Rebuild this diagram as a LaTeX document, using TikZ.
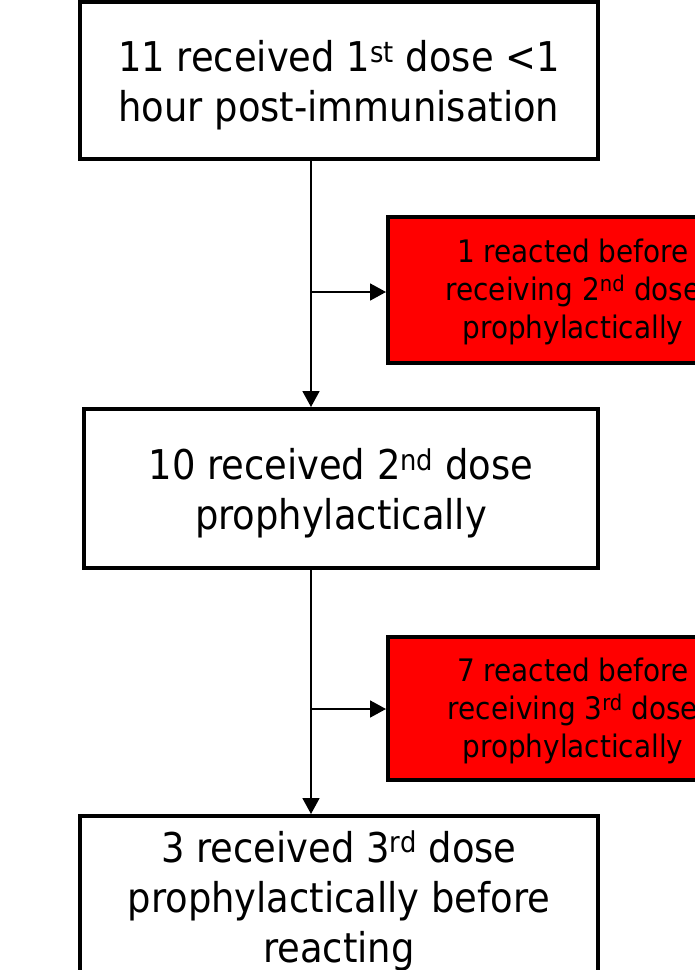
\documentclass[tikz,border=0pt]{standalone}
\usepackage{fontspec}
\setmainfont{DejaVu Sans Condensed}
\usetikzlibrary{positioning,arrows.meta}
% text set a little lower than the middle of its box
\newcommand{\lowtext}[2]{\raisebox{#1}[\height][\depth]{\begin{tabular}{@{}c@{}}#2\end{tabular}}}
\tikzset{
  stage/.style={draw,shape=rectangle,line width=4pt,inner sep=0pt,
    font=\fontsize{41}{50}\selectfont},
  react/.style={draw,shape=rectangle,fill=red,line width=4pt,inner sep=0pt,
    minimum width=370pt,font=\fontsize{31}{38}\selectfont},
  flow/.style={line width=1.8pt,-{Triangle[length=16pt,width=17pt]}}
}

\begin{document}
\begin{tikzpicture}[x=1pt,y=-1pt]
\useasboundingbox (0,0) rectangle (695,970);
\clip (0,0) rectangle (695,970);
\node[stage,minimum width=518pt,minimum height=157pt] (A) at (339,80.5) {\lowtext{-6pt}{11 received 1\textsuperscript{st} dose <1\\hour post-immunisation}};
\node[react,minimum height=146pt] (R1) at (573,290) {\lowtext{-3pt}{1 reacted before\\receiving 2\textsuperscript{nd} dose\\prophylactically}};
\node[stage,minimum width=514pt,minimum height=159pt] (B) at (341,488.5) {\lowtext{-6pt}{10 received 2\textsuperscript{nd} dose\\prophylactically}};
\node[react,minimum height=143pt] (R2) at (573,708.5) {\lowtext{-3pt}{7 reacted before\\receiving 3\textsuperscript{rd} dose\\prophylactically}};
\node[stage,minimum width=518pt,minimum height=158pt] (C) at (339,895) {\lowtext{-7pt}{3 received 3\textsuperscript{rd} dose\\prophylactically before\\reacting}};
% branch points
\coordinate (s1) at (311,292);
\coordinate (s2) at (311,709);
\draw[flow] (A.south -| s1) -- (B.north -| s1);
\draw[flow] (s1) -- (s1 -| R1.west);
\draw[flow] (B.south -| s2) -- (C.north -| s2);
\draw[flow] (s2) -- (s2 -| R2.west);
\end{tikzpicture}
\end{document}
